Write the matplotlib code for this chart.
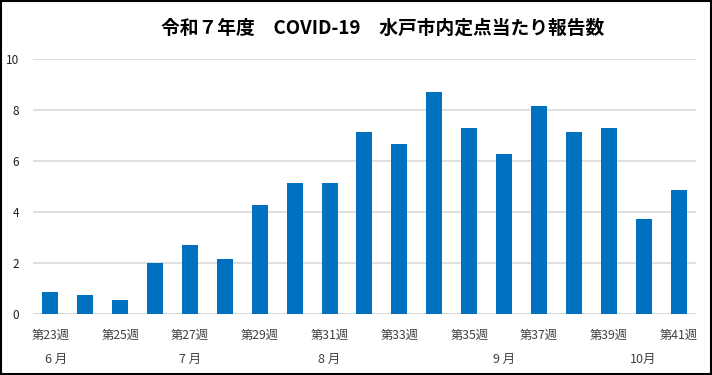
import matplotlib.pyplot as plt
import matplotlib.patches as mpatches

plt.rcParams['font.family'] = ['Noto Sans CJK JP', 'DejaVu Sans']

weeks = list(range(23, 42))
values = [0.87, 0.73, 0.56, 2.0, 2.72, 2.17, 4.29, 5.15, 5.15, 7.15,
          6.68, 8.72, 7.31, 6.29, 8.17, 7.15, 7.31, 3.74, 4.88]
week_labels = ['第%d週' % w if w % 2 == 1 else '' for w in weeks]
months = ['6 月', '7 月', '8 月', '9 月', '10月']
month_pos = [0.15, 4, 8, 13, 17]
title = '令和７年度　COVID-19　水戸市内定点当たり報告数'

fig = plt.figure(figsize=(7.12, 3.75), dpi=100)
ax = fig.add_axes([0.0463, 0.1627, 0.9312, 0.679])

x = list(range(len(weeks)))
ax.bar(x, values, width=0.46, color='#0070C0', zorder=3)

ax.set_xlim(-0.5, len(weeks) - 0.5)
ax.set_ylim(0, 10)
ax.set_yticks([0, 2, 4, 6, 8, 10])
ax.yaxis.grid(True, color='#D9D9D9', linewidth=1.2, zorder=0)
for s in ['top', 'right', 'left', 'bottom']:
    ax.spines[s].set_visible(False)
ax.axhline(0, color='#D9D9D9', linewidth=1.2, zorder=2)

ax.set_xticks(x)
ax.set_xticklabels(week_labels, fontsize=8.8, color='#404040')
ax.tick_params(axis='x', length=0, pad=11)
ax.tick_params(axis='y', length=0, pad=10, labelsize=8.5, labelcolor='#202020')

for m, p in zip(months, month_pos):
    ax.text(p, -1.8, m, ha='center', va='center', fontsize=9,
            color='#404040', transform=ax.transData, clip_on=False)

fig.text(0.538, 0.925, title, ha='center', va='center', fontsize=13.5,
         fontweight='bold', color='#000000')

fig.patches.append(mpatches.Rectangle((0.002, 0.003), 0.996, 0.994,
                                      transform=fig.transFigure, fill=False,
                                      edgecolor='black', linewidth=1.5))

fig.savefig('out.png', dpi=100)
